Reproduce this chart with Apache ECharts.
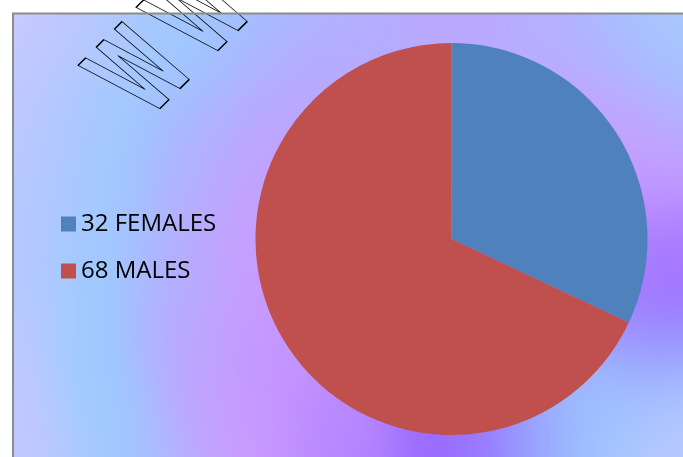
<!DOCTYPE html>
<html>
<head>
<meta charset="utf-8">
<script src="https://cdn.jsdelivr.net/npm/echarts@6/dist/echarts.min.js"></script>
<style>
  html, body { margin: 0; padding: 0; background: #ffffff; }
  #chart { width: 683px; height: 457px; }
</style>
</head>
<body>
<div id="chart"></div>
<script>
// ---- data ----
const categories = ['FEMALES', 'MALES'];
const counts = [32, 68];
const sliceColors = ['#4f81bd', '#c0504d'];
const watermarkText = 'WWW';

// Colour anchors of the "calm water" backdrop: [x, y, colour]
const backdropAnchors = [
  [13, 14, '#caccff'], [70, 14, '#c0c8ff'], [140, 14, '#aec6ff'], [200, 14, '#9ccaff'],
  [260, 14, '#a4beff'], [330, 14, '#aeb4ff'], [400, 14, '#b6acff'], [470, 14, '#bba8ff'],
  [540, 14, '#b6aeff'], [590, 14, '#aabaff'], [632, 14, '#9acbff'], [683, 14, '#c2c8ff'],
  [580, 35, '#b6aeff'], [660, 45, '#9ccaff'], [451, 30, '#bca8ff'],
  [13, 60, '#c6c9ff'], [90, 60, '#b4c6ff'], [165, 60, '#9acbff'], [250, 60, '#a8b8ff'],
  [330, 60, '#b6aaff'], [560, 60, '#bca8ff'], [625, 60, '#aabaff'], [683, 60, '#a2c4ff'],
  [683, 85, '#9acbff'],
  [13, 120, '#c4c8ff'], [60, 120, '#b2c6ff'], [108, 110, '#99ccff'], [200, 120, '#aab6ff'],
  [275, 120, '#bea4ff'], [306, 94, '#bea4ff'], [596, 94, '#c99cff'], [620, 120, '#c99cff'],
  [655, 120, '#c2a2ff'], [683, 125, '#b4b0ff'],
  [13, 180, '#c0c8ff'], [55, 180, '#b0c6ff'], [102, 180, '#99ccff'], [180, 180, '#aeb4ff'],
  [248, 180, '#c69eff'], [650, 180, '#c498ff'], [683, 160, '#c99aff'],
  [13, 240, '#bcc8ff'], [55, 240, '#aec6ff'], [96, 240, '#99ccff'], [180, 240, '#b2b0ff'],
  [246, 240, '#c99cff'], [655, 240, '#b484ff'], [683, 240, '#ac7eff'],
  [13, 290, '#bcc8ff'], [90, 290, '#99ccff'], [180, 290, '#b4aeff'], [252, 290, '#c99aff'],
  [648, 290, '#a074ff'], [683, 285, '#9966ff'],
  [13, 340, '#c0c8ff'], [91, 340, '#99ccff'], [180, 340, '#b8a8ff'], [268, 340, '#c896ff'],
  [632, 340, '#9c94ff'], [683, 335, '#9a86ff'],
  [13, 380, '#c2c8ff'], [98, 380, '#99ccff'], [190, 380, '#c0a2ff'], [300, 380, '#c090ff'],
  [608, 388, '#9cbcff'], [683, 375, '#9acaff'],
  [13, 420, '#c6c8ff'], [108, 420, '#99ccff'], [235, 420, '#c99aff'], [350, 430, '#b486ff'],
  [540, 432, '#9a94ff'], [600, 420, '#99caff'], [683, 420, '#b4c8ff'], [451, 445, '#9a68ff'],
  [13, 457, '#c8c8ff'], [60, 457, '#b8c6ff'], [120, 457, '#99ccff'], [180, 457, '#b6b0ff'],
  [245, 457, '#cc99ff'], [340, 457, '#b888ff'], [444, 457, '#9966ff'], [500, 457, '#9688ff'],
  [562, 457, '#99c6ff'], [620, 457, '#aec8ff'], [683, 457, '#c4c8ff']
];

// Paint the chart-area backdrop into an offscreen canvas (Gaussian-weighted blend of the anchors).
function paintBackdrop(ox, oy, w, h) {
  const step = 2;
  const sigma = 40;
  const k2 = 1 / (2 * sigma * sigma);
  const cw = Math.ceil(w / step), ch = Math.ceil(h / step);
  const small = document.createElement('canvas');
  small.width = cw; small.height = ch;
  const sctx = small.getContext('2d');
  const img = sctx.createImageData(cw, ch);
  const pts = backdropAnchors.map(([x, y, c]) => [
    x, y,
    parseInt(c.slice(1, 3), 16), parseInt(c.slice(3, 5), 16), parseInt(c.slice(5, 7), 16)
  ]);
  for (let j = 0; j < ch; j++) {
    for (let i = 0; i < cw; i++) {
      const px = ox + (i + 0.5) * step, py = oy + (j + 0.5) * step;
      let sw = 0, r = 0, g = 0, b = 0;
      for (const p of pts) {
        const dx = px - p[0], dy = py - p[1];
        const d2 = dx * dx + dy * dy;
        const wt = Math.exp(-d2 * k2) + 1e-9 / (d2 + 1);
        sw += wt; r += wt * p[2]; g += wt * p[3]; b += wt * p[4];
      }
      const k = (j * cw + i) * 4;
      img.data[k] = r / sw; img.data[k + 1] = g / sw; img.data[k + 2] = b / sw; img.data[k + 3] = 255;
    }
  }
  sctx.putImageData(img, 0, 0);
  const full = document.createElement('canvas');
  full.width = w; full.height = h;
  const fctx = full.getContext('2d');
  fctx.imageSmoothingEnabled = true;
  fctx.imageSmoothingQuality = 'high';
  fctx.drawImage(small, 0, 0, w, h);
  return full;
}

const areaX = 12, areaY = 13, areaW = 683 - 12, areaH = 457 - 13;
const backdrop = paintBackdrop(areaX, areaY, areaW, areaH);

const chart = echarts.init(document.getElementById('chart'), null, { renderer: 'canvas' });

// Outlined, condensed and tilted watermark letters
const glyphScaleX = 0.5;
const watermarkGlyphs = watermarkText.split('').map((ch, i) => ({
  type: 'text',
  x: i * 75 / glyphScaleX,
  y: 0,
  style: {
    text: ch,
    font: 'bold 109px "DejaVu Sans"',
    fill: 'none',
    stroke: '#000000',
    lineWidth: 1.4,
    align: 'center',
    verticalAlign: 'middle',
    textAlign: 'center',
    textVerticalAlign: 'middle'
  }
}));

chart.setOption({
  animation: false,
  backgroundColor: '#ffffff',
  graphic: [
    {
      type: 'image', silent: true, z: 0,
      style: { image: backdrop, x: areaX, y: areaY, width: areaW, height: areaH }
    },
    {
      type: 'rect', silent: true, z: 1,
      shape: { x: 13, y: 13.5, width: 720, height: 480 },
      style: { fill: 'none', stroke: '#8c8c8c', lineWidth: 2 }
    },
    {
      type: 'group', silent: true, z: 100,
      x: 148, y: 76, scaleX: 1.2145, scaleY: 1,
      children: [{
        type: 'group',
        rotation: 0.881,
        scaleX: glyphScaleX, scaleY: 1,
        children: watermarkGlyphs
      }]
    }
  ],
  legend: {
    orient: 'vertical',
    left: 61,
    top: 212,
    padding: 0,
    itemWidth: 15,
    itemHeight: 15,
    itemGap: 23,
    icon: 'rect',
    selectedMode: false,
    data: categories,
    formatter: name => counts[categories.indexOf(name)] + ' ' + name,
    textStyle: { fontFamily: '"Open Sans"', fontSize: 24, lineHeight: 24, color: '#000000' }
  },
  series: [{
    type: 'pie',
    center: [451.5, 239],
    radius: 196,
    startAngle: 90,
    clockwise: true,
    label: { show: false },
    labelLine: { show: false },
    emphasis: { disabled: true },
    itemStyle: { borderWidth: 0 },
    data: categories.map((name, i) => ({
      name: name,
      value: counts[i],
      itemStyle: { color: sliceColors[i] }
    }))
  }]
});
</script>
</body>
</html>
